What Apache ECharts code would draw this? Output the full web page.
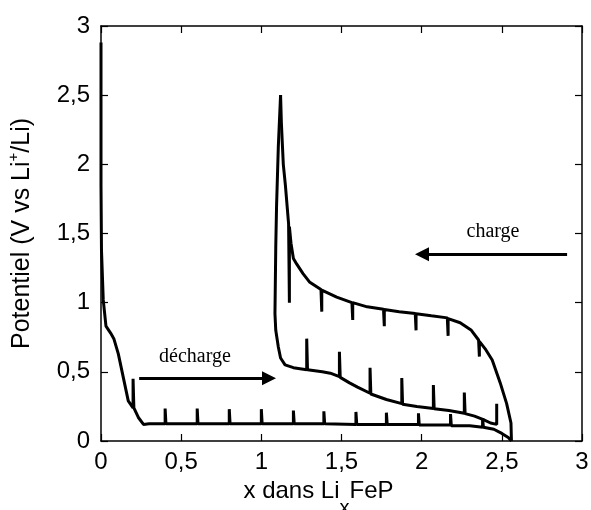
<!DOCTYPE html>
<html>
<head>
<meta charset="utf-8">
<script src="https://cdn.jsdelivr.net/npm/echarts@6/dist/echarts.min.js"></script>
<style>
  html, body { margin: 0; padding: 0; background: #fff; }
  #chart { width: 591px; height: 510px; }
</style>
</head>
<body>
<div id="chart"></div>
<script>
// first discharge (relaxation spikes go up)
const discharge1 = [
  [0, 2.88], [0, 1.85], [0.003, 1.38], [0.014, 1.02], [0.031, 0.83], [0.06, 0.78],
  [0.08, 0.74], [0.108, 0.63], [0.139, 0.46], [0.17, 0.29], [0.2, 0.24], [0.2, 0.45],
  [0.205, 0.24], [0.233, 0.17], [0.265, 0.12], [0.3, 0.125], [0.4, 0.125], [0.4, 0.235],
  [0.405, 0.125], [0.6, 0.125], [0.6, 0.235], [0.605, 0.125], [0.8, 0.125], [0.8, 0.23],
  [0.805, 0.125], [1.0, 0.125], [1.0, 0.23], [1.005, 0.125], [1.2, 0.125], [1.2, 0.22],
  [1.205, 0.125], [1.39, 0.125], [1.39, 0.215], [1.395, 0.125], [1.59, 0.12], [1.59, 0.21],
  [1.595, 0.12], [1.78, 0.12], [1.78, 0.205], [1.785, 0.12], [1.98, 0.12], [1.98, 0.2],
  [1.985, 0.115], [2.18, 0.115], [2.18, 0.195], [2.185, 0.11], [2.3, 0.11], [2.38, 0.1],
  [2.38, 0.165], [2.385, 0.1], [2.45, 0.085], [2.5, 0.055], [2.54, 0.025], [2.56, 0]
];

// charge (relaxation spikes go down)
const charge = [
  [2.56, 0], [2.557, 0.13], [2.53, 0.27], [2.49, 0.42], [2.44, 0.585], [2.4, 0.66],
  [2.36, 0.72], [2.36, 0.61], [2.355, 0.73], [2.31, 0.8], [2.24, 0.855], [2.165, 0.885],
  [2.165, 0.76], [2.16, 0.89], [2.06, 0.905], [1.965, 0.92], [1.965, 0.8], [1.96, 0.922],
  [1.86, 0.935], [1.767, 0.95], [1.767, 0.83], [1.762, 0.952], [1.66, 0.97], [1.57, 1.0],
  [1.57, 0.875], [1.565, 1.0], [1.47, 1.04], [1.377, 1.09], [1.377, 0.935], [1.372, 1.095],
  [1.3, 1.15], [1.26, 1.21], [1.22, 1.28], [1.2, 1.32], [1.185, 1.43], [1.175, 1.55],
  [1.175, 1.0], [1.17, 1.57], [1.15, 1.85], [1.137, 2.0], [1.125, 2.3], [1.12, 2.5]
];

// second discharge
const discharge2 = [
  [1.12, 2.5], [1.106, 2.13], [1.095, 1.7], [1.09, 1.4], [1.085, 0.92], [1.09, 0.8],
  [1.106, 0.68], [1.12, 0.6], [1.148, 0.55], [1.2, 0.53], [1.283, 0.515], [1.283, 0.74],
  [1.288, 0.515], [1.38, 0.5], [1.43, 0.49], [1.487, 0.465], [1.487, 0.645], [1.492, 0.46],
  [1.55, 0.42], [1.6, 0.39], [1.678, 0.345], [1.678, 0.53], [1.683, 0.34], [1.78, 0.3],
  [1.876, 0.27], [1.876, 0.455], [1.881, 0.265], [1.97, 0.25], [2.073, 0.235], [2.073, 0.405],
  [2.078, 0.233], [2.17, 0.22], [2.266, 0.2], [2.266, 0.35], [2.271, 0.198], [2.33, 0.18],
  [2.385, 0.155], [2.43, 0.13], [2.468, 0.12], [2.468, 0.27]
];

// annotations: [x, y] in data units
const dechargeArrow = [[0.238, 0.453], [1.048, 0.453]];
const chargeArrow = [[2.907, 1.35], [2.002, 1.35]];
const dechargeLabel = [0.586, 0.61];
const chargeLabel = [2.445, 1.51];

const sans = 'Liberation Sans, Arial, sans-serif';
const serif = 'Liberation Serif, Times New Roman, serif';
const comma = v => String(v).replace('.', ',');

const lineStyle = { color: '#000', width: 3 };

function axisBase(extra) {
  return Object.assign({
    type: 'value',
    min: 0,
    max: 3,
    interval: 0.5,
    splitLine: { show: false },
    axisLine: { show: true, onZero: false, lineStyle: { color: '#000', width: 1.5 } },
    axisTick: { show: true, inside: true, length: 7, lineStyle: { color: '#000', width: 1.2 } },
  }, extra);
}

const chart = echarts.init(document.getElementById('chart'));

chart.setOption({
  animation: false,
  backgroundColor: '#fff',
  grid: { left: 101, right: 9, top: 26, bottom: 69, containLabel: false, outerBoundsMode: 'none' },
  xAxis: [
    axisBase({
      position: 'bottom',
      axisLabel: { color: '#000', fontFamily: sans, fontSize: 24, margin: 9, formatter: comma },
      name: '{n|x dans Li}{sub|x}{n|FeP}',
      nameLocation: 'middle',
      nameGap: 21,
      nameTextStyle: {
        padding: [0, 46, 0, 0],
        rich: {
          n: { fontFamily: sans, fontSize: 24, color: '#000' },
          sub: { fontFamily: sans, fontSize: 20, color: '#000', padding: [36, 0, 0, 0] }
        }
      }
    }),
    axisBase({ position: 'top', axisLabel: { show: false } })
  ],
  yAxis: [
    axisBase({
      position: 'left',
      axisLabel: { color: '#000', fontFamily: sans, fontSize: 24, margin: 11, formatter: comma },
      name: '{n|Potentiel (V vs Li}{sup|+}{n|/Li)}',
      nameLocation: 'middle',
      nameGap: 62,
      nameTextStyle: {
        padding: [0, 0, 0, 0],
        rich: {
          n: { fontFamily: sans, fontSize: 25, color: '#000' },
          sup: { fontFamily: sans, fontSize: 15, color: '#000', padding: [0, 0, 18, 0] }
        }
      }
    }),
    axisBase({ position: 'right', axisLabel: { show: false } })
  ],
  series: [
    {
      name: 'discharge1', type: 'line', data: discharge1,
      showSymbol: false, symbol: 'none', lineStyle: lineStyle,
      markLine: {
        silent: true,
        symbol: ['none', 'triangle'],
        symbolSize: 14,
        lineStyle: { color: '#000', width: 3, type: 'solid' },
        label: { show: false },
        data: [
          [{ coord: dechargeArrow[0] }, { coord: dechargeArrow[1] }],
          [{ coord: chargeArrow[0] }, { coord: chargeArrow[1] }]
        ]
      },
      markPoint: {
        silent: true,
        symbol: 'circle',
        symbolSize: 0,
        label: { show: true, position: 'inside', color: '#000', fontFamily: serif, fontSize: 20 },
        data: [
          { coord: dechargeLabel, label: { formatter: 'décharge' } },
          { coord: chargeLabel, label: { formatter: 'charge' } }
        ]
      }
    },
    { name: 'charge', type: 'line', data: charge, showSymbol: false, symbol: 'none', lineStyle: lineStyle },
    { name: 'discharge2', type: 'line', data: discharge2, showSymbol: false, symbol: 'none', lineStyle: lineStyle }
  ]
});
</script>
</body>
</html>
